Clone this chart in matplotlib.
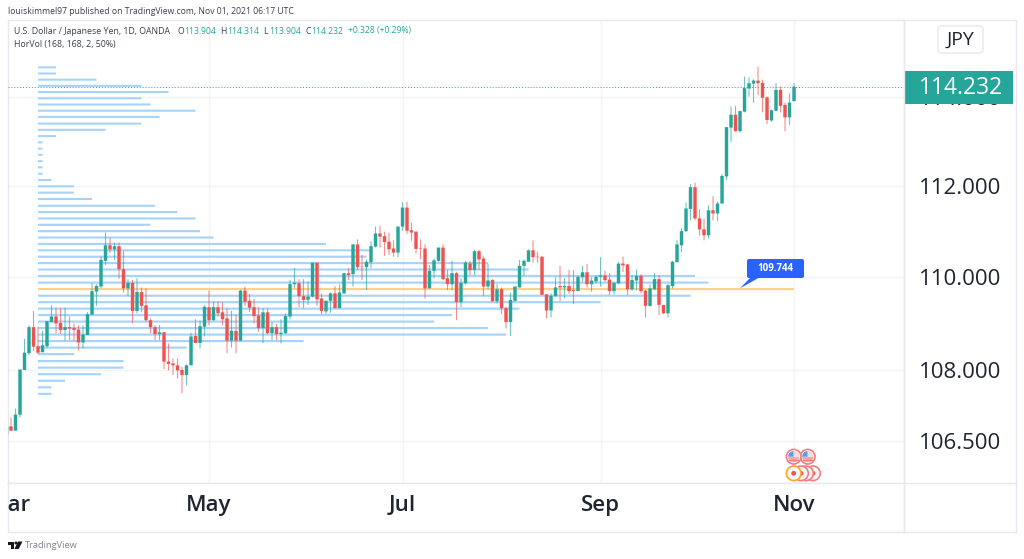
import matplotlib
matplotlib.use("Agg")
import matplotlib.pyplot as plt
from matplotlib.patches import Rectangle, FancyBboxPatch, Polygon, Circle, Wedge
from matplotlib.ticker import NullLocator

opens = [106.62,106.80,106.71,107.05,108.00,108.36,108.92,108.51,108.38,108.51,
109.03,109.15,109.01,108.86,108.92,108.90,108.87,108.59,108.75,109.19,
109.69,109.80,110.36,110.70,110.61,110.68,110.18,109.76,109.88,109.27,
109.68,109.39,109.07,108.92,108.77,108.81,108.18,108.14,108.10,108.00,
107.89,108.10,108.73,108.58,108.93,109.35,109.07,109.35,109.24,109.11,
108.63,108.84,108.63,109.71,109.49,109.35,109.17,108.90,109.24,108.79,
108.92,108.77,108.79,109.15,109.85,109.87,109.59,109.51,109.58,110.32,
109.54,109.26,109.49,109.65,109.33,109.65,110.09,110.07,110.72,110.23,
110.22,110.33,110.67,110.96,110.90,110.78,110.63,110.54,111.11,111.53,
111.03,111.00,110.63,110.63,109.76,110.14,110.36,110.65,109.98,109.85,
110.09,109.46,109.87,110.30,110.16,110.57,110.41,109.80,109.94,109.48,
109.74,109.33,109.03,109.49,109.78,110.25,110.34,110.59,110.45,110.45,
109.63,109.28,109.59,109.81,109.78,109.81,109.72,109.70,110.00,110.11,
109.85,109.91,110.01,110.04,109.95,109.70,109.87,110.30,110.28,109.74,
109.93,110.03,109.71,109.38,109.74,109.96,109.40,109.22,109.81,110.33,
110.70,111.01,111.50,111.98,111.29,111.05,110.92,111.47,111.40,111.62,
112.22,113.31,113.60,113.23,113.67,114.19,114.30,114.37,114.32,113.99,
113.47,113.69,114.16,113.82,113.54,113.904]
highs = [106.80,106.99,107.18,108.01,108.67,108.96,109.27,108.93,108.84,109.05,
109.39,109.34,109.33,109.34,109.15,109.00,108.96,108.96,109.25,109.87,
109.85,110.45,110.98,110.87,110.76,110.76,110.57,109.96,109.94,109.98,
109.78,109.76,109.11,108.96,108.97,108.81,108.57,108.25,108.25,108.07,
108.12,108.80,109.09,109.06,109.39,109.71,109.48,109.48,109.46,109.33,
109.27,109.18,109.73,109.80,109.64,109.53,109.35,109.33,109.33,109.03,
108.99,109.09,109.22,109.94,110.20,109.96,109.96,109.91,110.32,110.32,
109.65,109.49,109.67,109.81,109.85,110.10,110.20,110.72,110.83,110.49,
110.39,110.79,111.11,111.13,111.00,110.98,110.81,111.12,111.65,111.66,
111.19,111.00,110.83,110.72,110.27,110.41,110.65,110.72,110.16,110.36,
110.12,109.98,110.36,110.36,110.60,110.60,110.46,110.30,109.96,109.85,
109.78,109.36,109.67,109.80,110.38,110.39,110.61,110.81,110.56,110.46,
109.63,109.65,110.00,110.25,109.98,110.16,110.16,110.03,110.25,110.29,
110.00,110.03,110.44,110.14,110.09,109.88,110.33,110.45,110.29,110.05,
110.17,110.07,109.72,109.85,110.09,110.05,109.40,109.85,110.36,110.81,
111.07,111.64,112.05,112.08,111.49,111.29,111.58,111.78,111.66,112.27,
113.32,113.78,113.80,113.69,114.46,114.44,114.40,114.68,114.39,114.01,
113.72,114.31,114.24,113.87,114.08,114.314]
lows = [106.60,106.71,106.71,106.99,108.00,108.32,108.41,108.34,108.38,108.48,
109.03,108.79,108.77,108.63,108.64,108.62,108.42,108.47,108.75,109.19,
109.38,109.76,110.27,110.54,110.38,109.97,109.67,109.59,109.00,109.22,
109.24,109.04,108.79,108.64,108.64,108.02,107.99,107.89,107.82,107.50,
107.67,108.10,108.57,108.46,108.72,108.96,109.06,109.15,108.96,108.36,
108.48,108.36,108.63,109.38,109.25,109.00,108.82,108.58,108.77,108.64,
108.64,108.57,108.77,109.09,109.76,109.35,109.33,109.40,109.56,109.38,
109.20,109.20,109.23,109.33,109.33,109.64,109.94,109.80,110.16,109.94,
109.72,110.20,110.65,110.65,110.47,110.49,110.45,110.43,111.02,110.95,
110.80,110.52,110.39,109.54,109.76,109.98,110.34,109.94,109.72,109.72,
109.07,109.35,109.85,110.05,110.05,110.16,109.59,109.74,109.47,109.43,
109.20,108.89,108.73,109.47,109.78,110.03,110.34,110.32,110.32,109.62,
109.11,109.13,109.58,109.49,109.54,109.64,109.42,109.70,109.91,109.78,
109.69,109.87,109.80,109.91,109.62,109.63,109.85,110.12,109.62,109.70,
109.72,109.65,109.13,109.36,109.72,109.18,109.20,109.13,109.76,110.33,
110.55,110.99,111.25,111.25,110.91,110.81,110.85,111.25,111.23,111.61,
112.14,112.99,113.22,113.20,113.65,114.01,113.87,114.04,113.65,113.39,
113.44,113.68,113.65,113.23,113.37,113.904]
closes = [106.80,106.71,107.05,108.01,108.37,108.92,108.50,108.37,108.53,109.05,
109.15,109.00,108.86,108.92,108.89,108.86,108.59,108.76,109.20,109.70,
109.81,110.38,110.70,110.61,110.68,110.18,109.76,109.88,109.27,109.68,
109.38,109.07,108.92,108.77,108.81,108.18,108.13,108.10,107.99,107.89,
108.10,108.72,108.58,108.94,109.36,109.07,109.35,109.22,109.09,108.63,
108.84,108.63,109.71,109.47,109.34,109.16,108.90,109.24,108.79,108.92,
108.77,108.80,109.16,109.85,109.88,109.59,109.51,109.58,110.32,109.52,
109.27,109.49,109.65,109.33,109.67,110.09,110.05,110.72,110.22,110.22,
110.34,110.68,110.96,110.89,110.77,110.61,110.54,111.11,111.53,111.02,
110.98,110.62,110.62,109.76,110.14,110.37,110.65,109.96,109.85,110.09,
109.46,109.88,110.32,110.16,110.57,110.39,109.80,109.93,109.48,109.74,
109.33,109.03,109.51,109.80,110.25,110.36,110.59,110.44,110.44,109.62,
109.28,109.60,109.78,109.78,109.81,109.70,109.70,110.01,110.11,109.85,
109.93,110.01,110.04,109.94,109.70,109.88,110.30,110.26,109.74,109.94,
110.03,109.70,109.38,109.76,109.96,109.40,109.22,109.83,110.34,110.72,
111.01,111.51,111.98,111.29,111.05,110.92,111.47,111.40,111.62,112.23,
113.32,113.60,113.23,113.68,114.20,114.31,114.37,114.31,113.98,113.48,
113.70,114.16,113.80,113.54,113.87,114.232]

profile_prices = [107.49,107.63,107.77,107.91,108.05,108.19,108.34,108.48,108.62,108.76,
108.90,109.04,109.18,109.32,109.46,109.60,109.744,109.885,110.03,110.17,
110.31,110.45,110.59,110.73,110.87,111.01,111.15,111.29,111.43,111.57,
111.72,111.86,112.00,112.14,112.28,112.42,112.56,112.70,112.84,112.98,
113.12,113.26,113.40,113.55,113.69,113.83,113.97,114.11,114.25,114.39,114.53,114.67]
profile_counts = [3,3,6,14,19,19,8,33,59,104,100,88,92,107,125,145,168,149,146,109,
100,73,74,64,39,36,25,35,31,26,12,8,8,3,1,1,1,1,1,1,4,15,23,27,35,25,23,29,23,13,4,4]
poc_price = 109.744
last_price = 114.232

price_ticks = [106.5, 108, 110, 112, 114]
price_labels = ["106.500", "108.000", "110.000", "112.000", "114.000"]
month_pos = [0.6, 45, 88, 132, 175]
month_labels = ["Mar", "May", "Jul", "Sep", "Nov"]

W, H = 1024, 559
GREEN, RED = "#26A69A", "#EF5350"
FRAME = "#E6E8EF"
GRID = "#F3F4F6"
INK = "#1F2430"
plt.rcParams['font.family'] = ['Open Sans', 'DejaVu Sans']
fig = plt.figure(figsize=(W/100, H/100), dpi=100, facecolor="white")

def rect(l, t, r, b):
    return [l/W, 1-b/H, (r-l)/W, (b-t)/H]

# Price chart
ax = fig.add_axes(rect(8, 20, 904, 483), zorder=1)
ax.set_yscale("log")
ax.set_xlim(0.33, 199.44)
ax.set_ylim(105.61, 115.75)
ax.yaxis.set_minor_locator(NullLocator())
ax.set_yticks(price_ticks, price_labels)
ax.set_xticks(month_pos[1:])
ax.tick_params(axis="x", length=0, labelbottom=False)
ax.yaxis.tick_right()
ax.tick_params(axis="y", length=0, labelsize=16, labelcolor=INK, pad=10.5)
ax.grid(True, color=GRID, lw=1)
ax.set_axisbelow(True)
for s in ax.spines.values():
    s.set_color(FRAME); s.set_linewidth(1)

# Volume profile
for p, c in zip(profile_prices, profile_counts):
    col = "#FFD08A" if p == poc_price else "#A5D3FA"
    for b in ax.barh(p, c, left=7, height=0.046, color=col, lw=0, zorder=2):
        b.set_snap(False)

# Candles
xs = list(range(len(opens)))
wcol = [(GREEN if c >= o else RED) for o, c in zip(opens, closes)]
wicks = ax.vlines(xs, lows, highs, colors=wcol, lw=0.8, alpha=0.65, zorder=3)
wicks.set_snap(False)
for b in ax.bar(xs, [abs(c-o) for o, c in zip(opens, closes)],
                bottom=[min(o, c) for o, c in zip(opens, closes)],
                width=0.76, color=wcol, lw=0, zorder=4):
    b.set_snap(False)
ax.axhline(last_price, color=GREEN, lw=0.7, ls=(0, (1, 2)), zorder=5)

# Time axis strip
tx = fig.add_axes(rect(8, 483, 904, 532), zorder=1)
tx.set_xlim(ax.get_xlim()); tx.set_ylim(0, 1)
tx.set_xticks([]); tx.set_yticks([])
for s in tx.spines.values():
    s.set_color(FRAME); s.set_linewidth(1)
for x, l in zip(month_pos, month_labels):
    tx.text(x, 0.54, l, ha="center", va="center", fontsize=16, weight="semibold",
            color=INK, clip_on=True)

# Overlay in page pixels
pg = fig.add_axes([0, 0, 1, 1], zorder=5)
pg.set_xlim(0, W); pg.set_ylim(H, 0); pg.axis("off")
pg.plot([904, 904, 1016, 1016, 904], [20, 532, 532, 20, 20], color=FRAME, lw=1)
pg.plot([904, 1016], [483, 483], color=FRAME, lw=1)

TXT = "#3A3F4B"
pg.text(8, 11, "louiskimmel97 published on TradingView.com, Nov 01, 2021 06:17 UTC",
        fontsize=6.2, color=TXT, va="center")
pg.text(13.5, 31, "U.S. Dollar / Japanese Yen, 1D, OANDA", fontsize=6.3, color=TXT, va="center")
for x, s, c in [(177, "O", TXT), (184, "113.904", GREEN), (220, "H", TXT),
                (227, "114.314", GREEN), (263, "L", TXT), (269, "113.904", GREEN),
                (305, "C", TXT), (311, "114.232", GREEN), (348, "+0.328 (+0.29%)", GREEN)]:
    pg.text(x, 31, s, fontsize=6.2, color=c, va="center")
pg.text(13.5, 44.5, "HorVol (168, 168, 2, 50%)", fontsize=6.3, color=TXT, va="center")

pg.add_patch(Rectangle((904, 70.5), 109, 33.5, color=GREEN, lw=0))
pg.text(961, 87.5, "114.232", color="white", fontsize=16.5, ha="center", va="center")

pg.add_patch(FancyBboxPatch((940, 28), 41, 23, boxstyle="round,pad=2,rounding_size=3",
                            fc="white", ec=FRAME, lw=1))
pg.text(960.5, 39.5, "JPY", fontsize=14, color=INK, ha="center", va="center")

# Callout
BLUE = "#2962FF"
pg.add_patch(Polygon([[740, 288.3], [752, 276], [762, 276]], color=BLUE, lw=0))
pg.add_patch(FancyBboxPatch((749, 261), 53, 15, boxstyle="round,pad=2,rounding_size=2", fc=BLUE, ec=BLUE, lw=0))
pg.text(775.5, 268.3, "109.744", fontsize=7, weight="bold", color="white", ha="center", va="center")

# Event badges
def us(x, y):
    pg.add_patch(Circle((x, y), 7.3, fc="white", ec="#F77C80", lw=1.2))
    pg.add_patch(Wedge((x, y), 5.6, 0, 180, fc="#F9A8AA", lw=0))
    pg.add_patch(Wedge((x, y), 5.6, 180, 270, fc="#5A9BE6", lw=0))
    pg.add_patch(Wedge((x, y), 5.6, 270, 360, fc="#FBD9D9", lw=0))
    pg.plot([x-4.6, x+4.6], [y+3, y+3], color="#F77C80", lw=1)
def jp(x, y, ring):
    pg.add_patch(Circle((x, y), 7.3, fc="#F6F6F6", ec=ring, lw=1.2))
    pg.add_patch(Circle((x, y), 2.4, fc="#EF5350", lw=0))
us(807.7, 456.7); us(793.7, 456.7)
for x in [813, 806, 801]:
    jp(x, 473.3, "#F77C80")
jp(793.7, 473.3, "#FFA726")

# Footer
pg.add_patch(Polygon([[7.5, 541.5], [14, 541.5], [14, 549], [10.5, 549], [10.5, 544.5], [7.5, 544.5]], color="#131722", lw=0))
pg.add_patch(Circle((16, 543), 1.5, color="#131722", lw=0))
pg.add_patch(Polygon([[18, 541.5], [22.5, 541.5], [18.7, 549], [14.5, 549]], color="#131722", lw=0))
pg.text(25, 545.5, "TradingView", fontsize=6.7, color="#7A808C", va="center")

fig.savefig("out.png", dpi=100)
